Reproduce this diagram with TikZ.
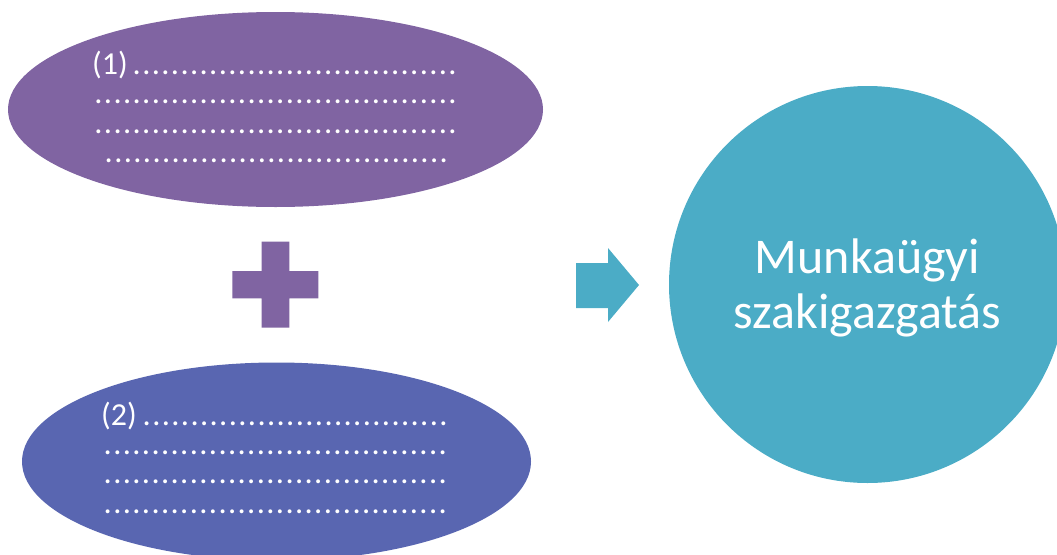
\documentclass[tikz,border=0pt]{standalone}
\usepackage{fontspec}
\setmainfont{Carlito}
\usetikzlibrary{shapes.geometric}
\definecolor{purpleA}{HTML}{8064A2}
\definecolor{blueB}{HTML}{5966B1}
\definecolor{tealC}{HTML}{4BACC6}
\newcount\mydotcnt
\newcommand\dotrow[1]{\mydotcnt=#1\relax\loop\makebox[9.57pt]{\scalebox{1.25}{.}}\advance\mydotcnt by -1\relax\ifnum\mydotcnt>0\repeat}
\newcommand\lbl[2]{\makebox[#1][l]{\fontsize{32}{32}\selectfont #2}}
\begin{document}
\begin{tikzpicture}[x=1pt,y=-1pt,
  blob/.style={ellipse,inner sep=0pt,draw=none},
  dotblock/.style={anchor=base west,inner sep=0pt,text=white,font=\fontsize{26}{26}\selectfont},
  bigtext/.style={text=white,align=center,font=\fontsize{50}{55}\selectfont}]
\useasboundingbox (0,0) rectangle (1057,554);
% ellipses
\node[blob,fill=purpleA,minimum width=535pt,minimum height=195pt] (e1) at (275.5,109.5) {};
\node[blob,fill=blueB,minimum width=509pt,minimum height=198pt] (e2) at (276.5,461.5) {};
% circle
\node[circle,fill=tealC,inner sep=0pt,minimum size=397pt] (c) at (867.5,284.5) {};
\node[bigtext] (ct) at (867.5,287.5) {Munkaügyi\\szakigazgatás};
% plus sign
\fill[purpleA] (261.7,241.7) -- (289.3,241.7) -- (289.3,271) -- (318.3,271) -- (318.3,298.3)
  -- (289.3,298.3) -- (289.3,327.7) -- (261.7,327.7) -- (261.7,298.3) -- (232.3,298.3)
  -- (232.3,271) -- (261.7,271) -- cycle;
% arrow
\fill[tealC] (576,263) -- (608,263) -- (608,248) -- (639,285) -- (608,322) -- (608,308) -- (576,308) -- cycle;
% text in ellipse 1
\node[dotblock] (t1) at (92,74.5) {\vtop{\baselineskip=29.3pt\lineskiplimit=-100pt
  \hbox{\lbl{39.8pt}{(1)}\dotrow{34}}
  \hbox{\hspace{1.5pt}\dotrow{38}}
  \hbox{\hspace{1.5pt}\dotrow{38}}
  \hbox{\hspace{11.8pt}\dotrow{36}}}};
% text in ellipse 2
\node[dotblock] (t2) at (101,425.3) {\vtop{\baselineskip=29.3pt\lineskiplimit=-100pt
  \hbox{\lbl{40.8pt}{(2)}\dotrow{32}}
  \hbox{\hspace{1.8pt}\dotrow{36}}
  \hbox{\hspace{1.8pt}\dotrow{36}}
  \hbox{\hspace{1.8pt}\dotrow{36}}}};
\end{tikzpicture}
\end{document}
